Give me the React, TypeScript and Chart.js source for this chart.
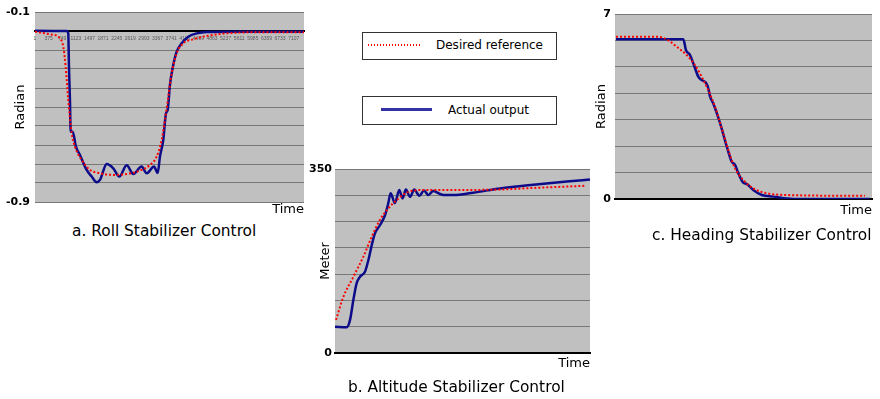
import React, { useEffect, useRef } from 'react';
import { Chart, registerables } from 'chart.js';

Chart.register(...registerables);

// ---------- a. Roll Stabilizer Control ----------
const rollXTicks = [1, 375, 749, 1123, 1497, 1871, 2245, 2619, 2993, 3367, 3741, 4115, 4489, 4863, 5237, 5611, 5985, 6359, 6733, 7107];
const rollXLabels = ['1', '375', '749', '1123', '1497', '1871', '2245', '2619', '2993', '3367', '3741', '4115', '4489', '4863', '5237', '5611', '5985', '6359', '6733', '7107'];
const rollYTicks = [-0.9, -0.82, -0.74, -0.66, -0.58, -0.5, -0.42, -0.34, -0.26, -0.18, -0.1];
const rollYLabels = ['-0.9', '', '', '', '', '', '', '', '', '', '-0.1'];
const rollRefT = [1, 412, 687, 777, 843, 915, 1008, 1099, 1283, 1511, 1786, 2151, 2519, 2884, 3159, 3343, 3480, 3571, 3662, 3755, 3892, 4074, 4349, 4717, 5266, 6181, 7389];
const rollRef = [-0.183, -0.194, -0.211, -0.246, -0.33, -0.471, -0.609, -0.667, -0.723, -0.765, -0.779, -0.786, -0.782, -0.768, -0.744, -0.709, -0.639, -0.555, -0.457, -0.358, -0.274, -0.232, -0.215, -0.201, -0.19, -0.185, -0.185];
const rollActT = [1, 871, 915, 934, 961, 981, 1036, 1126, 1236, 1420, 1558, 1695, 1786, 1970, 2151, 2316, 2519, 2700, 2931, 3068, 3269, 3371, 3434, 3524, 3599, 3645, 3708, 3772, 3892, 4030, 4211, 4442, 4717, 5439, 7389];
const rollAct = [-0.179, -0.18, -0.19, -0.33, -0.471, -0.604, -0.604, -0.667, -0.702, -0.765, -0.793, -0.817, -0.807, -0.74, -0.758, -0.793, -0.745, -0.782, -0.751, -0.779, -0.751, -0.777, -0.709, -0.639, -0.527, -0.513, -0.407, -0.344, -0.267, -0.232, -0.204, -0.19, -0.184, -0.183, -0.183];

// ---------- b. Altitude Stabilizer Control ----------
const altYTicks = [0, 50, 100, 150, 200, 250, 300, 350];
const altYLabels = ['0', '', '', '', '', '', '', '350'];
const altRefT = [0.4, 3.3, 7.2, 11.1, 14.4, 17.6, 20.9, 24.2, 28.1, 33.3, 45.1, 64.7, 77.8, 98];
const altRef = [63, 107, 145, 183, 221, 253, 275, 291, 305, 310, 310, 311, 314, 318];
const altActT = [0, 4.6, 5.9, 7.2, 8.5, 9.8, 11.8, 13.1, 14.4, 15.7, 17.6, 19.6, 20.9, 21.8, 23.5, 25.2, 26.5, 27.8, 29.4, 31.1, 33.1, 34.9, 36.6, 38.5, 42.5, 46.4, 54.2, 64.7, 77.8, 90.9, 100];
const altAct = [50, 49, 63, 101, 133, 145, 155, 177, 205, 228, 243, 262, 285, 304, 285, 310, 294, 311, 297, 311, 299, 309, 300.5, 308, 300.5, 300.5, 305, 313, 320, 326, 330];

// ---------- c. Heading Stabilizer Control ----------
const headYTicks = [0, 1, 2, 3, 4, 5, 6, 7];
const headYLabels = ['0', '', '', '', '', '', '', '7'];
const headRefT = [0.4, 16.2, 20.1, 24.0, 27.9, 31.1, 33.7, 36.3, 38.9, 41.5, 44.1, 46.7, 49.9, 53.8, 59.0, 66.8, 97.3];
const headRef = [6.14, 6.14, 6.04, 5.76, 5.45, 5.07, 4.63, 4.12, 3.49, 2.68, 1.85, 1.16, 0.72, 0.4, 0.22, 0.15, 0.12];
const headActT = [0.4, 26.6, 27.6, 29.2, 30.7, 32.4, 33.7, 35.4, 36.3, 37.0, 38.2, 40.9, 43.5, 45.4, 46.7, 48.0, 49.9, 51.2, 53.8, 57.1, 61.6, 69.4, 99.2];
const headAct = [6.04, 6.04, 5.64, 5.45, 5.07, 4.63, 4.5, 4.4, 4.19, 3.87, 3.62, 2.86, 1.98, 1.41, 1.29, 0.97, 0.62, 0.57, 0.34, 0.15, 0.09, 0, 0];

const legendLabels = ['Desired reference', 'Actual output'];
const captions = ['a. Roll Stabilizer Control', 'b. Altitude Stabilizer Control', 'c. Heading Stabilizer Control'];

const FONT = "'DejaVu Sans', Verdana, sans-serif";
const SMALL = "'Liberation Sans', Arial, sans-serif";
const REF_COLOR = '#ff0000';
const ACT_COLOR = '#0c0c8a';
const GRID = '#787878';

const plotBg = {
  id: 'plotBg',
  beforeDraw(chart: any) {
    const { ctx, chartArea: a } = chart;
    ctx.save();
    ctx.fillStyle = '#c0c0c0';
    ctx.fillRect(a.left, a.top, a.right - a.left, a.bottom - a.top);
    ctx.restore();
  },
};

function series(t: number[], v: number[]) {
  return t.map((x, i) => ({ x, y: v[i] }));
}

function makeDatasets(refT: number[], refV: number[], actT: number[], actV: number[]) {
  return [
    {
      label: legendLabels[0], data: series(refT, refV), borderColor: REF_COLOR, borderWidth: 2,
      borderDash: [2, 2], pointRadius: 0, cubicInterpolationMode: 'monotone', xAxisID: 'x', yAxisID: 'y',
    },
    {
      label: legendLabels[1], data: series(actT, actV), borderColor: ACT_COLOR, borderWidth: 2.5,
      pointRadius: 0, cubicInterpolationMode: 'monotone', xAxisID: 'x', yAxisID: 'y',
    },
  ];
}

function yScale(min: number, max: number, ticks: number[], labels: string[], title: string, w: number, tickPad: number, titlePad: number) {
  return {
    type: 'linear', position: 'left', min, max,
    afterBuildTicks: (s: any) => { s.ticks = ticks.map((value) => ({ value })); },
    afterFit: (s: any) => { s.width = w; },
    grid: { color: GRID, lineWidth: 1, drawTicks: false },
    border: { display: false },
    ticks: { padding: tickPad, color: '#000', font: { family: FONT, size: 11, weight: 'bold' }, callback: (_v: any, i: number) => labels[i] },
    title: { display: true, text: title, color: '#000', font: { family: FONT, size: 13 }, padding: { top: titlePad, bottom: 0 } },
  };
}

function timeScale(min: number, max: number, h: number, titlePad: number, border: boolean) {
  return {
    type: 'linear', position: 'bottom', min, max,
    afterFit: (s: any) => { s.height = h; },
    grid: { display: false, drawTicks: false },
    border: { display: border, color: '#000', width: 2 },
    ticks: { display: false },
    title: { display: true, text: 'Time', align: 'end', color: '#000', font: { family: FONT, size: 13 }, padding: { top: 0, bottom: titlePad } },
  };
}

function baseOptions(padding: any, scales: any) {
  return {
    responsive: false,
    animation: false,
    devicePixelRatio: 1,
    layout: { padding },
    plugins: { legend: { display: false }, tooltip: { enabled: false } },
    scales,
  };
}

export default function App() {
  const aRef = useRef<HTMLCanvasElement>(null);
  const bRef = useRef<HTMLCanvasElement>(null);
  const cRef = useRef<HTMLCanvasElement>(null);

  useEffect(() => {
    const charts: Chart[] = [];
    charts.push(new Chart(aRef.current as any, {
      type: 'line',
      data: { datasets: makeDatasets(rollRefT, rollRef, rollActT, rollAct) as any },
      options: baseOptions({ left: 0, top: 12, right: 16, bottom: 0 }, {
        x: {
          type: 'linear', min: 1, max: 7390, position: { y: -0.18 },
          afterBuildTicks: (s: any) => { s.ticks = rollXTicks.map((value) => ({ value })); },
          grid: { display: false, drawTicks: false },
          border: { display: true, color: '#000', width: 2 },
          ticks: {
            autoSkip: false, maxRotation: 0, minRotation: 0, padding: 5, color: '#5a5a5a',
            font: { family: SMALL, size: 5 }, callback: (_v: any, i: number) => rollXLabels[i],
          },
        },
        xt: timeScale(1, 7390, 18, 3, false),
        y: yScale(-0.9, -0.1, rollYTicks, rollYLabels, 'Radian', 35, 5, 13),
      }) as any,
      plugins: [plotBg],
    }));
    charts.push(new Chart(bRef.current as any, {
      type: 'line',
      data: { datasets: makeDatasets(altRefT, altRef, altActT, altAct) as any },
      options: baseOptions({ left: 0, top: 19, right: 10, bottom: 0 }, {
        x: timeScale(0, 100, 22, 4, true),
        y: yScale(0, 350, altYTicks, altYLabels, 'Meter', 35, 3, 18),
      }) as any,
      plugins: [plotBg],
    }));
    charts.push(new Chart(cRef.current as any, {
      type: 'line',
      data: { datasets: makeDatasets(headRefT, headRef, headActT, headAct) as any },
      options: baseOptions({ left: 0, top: 14, right: 8, bottom: 0 }, {
        x: timeScale(0, 100, 26, 7, true),
        y: yScale(0, 7, headYTicks, headYLabels, 'Radian', 35, 4, 14),
      }) as any,
      plugins: [plotBg],
    }));
    return () => charts.forEach((c) => c.destroy());
  }, []);

  const abs = (left: number, top: number, extra: any = {}) => ({ position: 'absolute' as const, left, top, ...extra });
  const captionStyle = { fontFamily: FONT, fontSize: 15.4, lineHeight: 1, color: '#000', whiteSpace: 'nowrap' as const };
  const legendText = { fontFamily: FONT, fontSize: 12, lineHeight: 1, color: '#000', whiteSpace: 'nowrap' as const };

  return (
    <div style={{ position: 'fixed', left: 0, top: 0, width: 880, height: 399, background: '#fff', overflow: 'hidden' }}>
      <canvas ref={aRef} width={320} height={220} style={abs(0, 0, { width: 320, height: 220 })} />
      <canvas ref={bRef} width={300} height={225} style={abs(300, 150, { width: 300, height: 225 })} />
      <canvas ref={cRef} width={300} height={225} style={abs(580, 0, { width: 300, height: 225 })} />

      <div style={abs(362, 32, { width: 195, height: 28, border: '1px solid #333', boxSizing: 'border-box', background: '#fff' })} />
      <div style={abs(368, 44, { width: 52, height: 2, background: `repeating-linear-gradient(90deg, ${REF_COLOR} 0 1px, transparent 1px 3px)` })} />
      <div style={abs(436, 39, legendText)}>{legendLabels[0]}</div>

      <div style={abs(362, 96, { width: 195, height: 29, border: '1px solid #333', boxSizing: 'border-box', background: '#fff' })} />
      <div style={abs(381, 107.5, { width: 51, height: 3, background: '#3232a4' })} />
      <div style={abs(448, 104, legendText)}>{legendLabels[1]}</div>

      <div style={abs(72, 224, captionStyle)}>{captions[0]}</div>
      <div style={abs(348, 380, captionStyle)}>{captions[1]}</div>
      <div style={abs(652, 228, captionStyle)}>{captions[2]}</div>
    </div>
  );
}
